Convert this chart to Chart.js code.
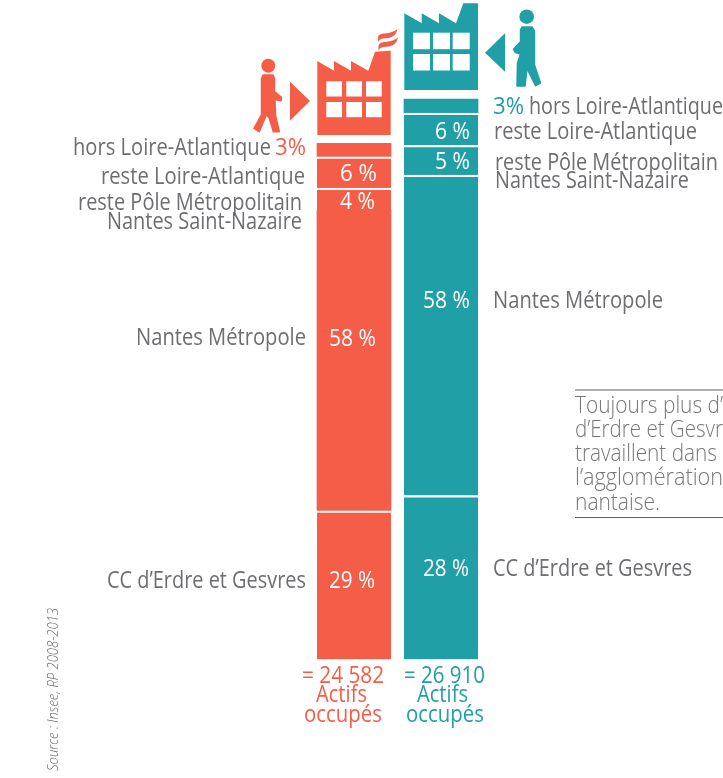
<!DOCTYPE html>
<html lang="fr">
<head>
<meta charset="utf-8">
<title>Actifs occupés</title>
<script src="https://cdn.jsdelivr.net/npm/chart.js@4/dist/chart.umd.min.js"></script>
<style>
  html, body { margin: 0; padding: 0; background: #fff; overflow: hidden; }
  canvas { display: block; }
</style>
</head>
<body>
<canvas id="chart" width="723" height="778"></canvas>
<script>
// Two columns: residents working in the CC, and people working in the CC
const categories = ['Actifs sortants', 'Actifs entrants'];
const zones = ['CC d’Erdre et Gesvres', 'Nantes Métropole', 'reste Pôle Métropolitain Nantes Saint-Nazaire', 'reste Loire-Atlantique', 'hors Loire-Atlantique'];

// Segment sizes, in number of workers (bottom to top)
const erdreValues = [7142, 7872];
const metropoleValues = [14434, 15384];
const poleValues = [1056, 1426];
const loireValues = [1502, 1550];
const horsValues = [643, 672];

const totals = ['= 24 582', '= 26 910'];
const percentLabels = ['3%', '6 %', '4 %', '58 %', '29 %', '3%', '6 %', '5 %', '58 %', '28 %'];

const CORAL = '#f45e48';
const TEAL = '#209fa6';
const GREY = '#6d6e71';
const colors = [CORAL, TEAL];

const FONT = '"Open Sans", sans-serif';
const SIZE = 23.5;

// Draw a text squeezed or stretched to the width it has in the layout
function fitText(ctx, text, x, y, width, color, size = SIZE, weight = '400') {
  ctx.save();
  ctx.font = `${weight} ${size}px ${FONT}`;
  ctx.textAlign = 'left';
  ctx.textBaseline = 'middle';
  ctx.fillStyle = color;
  const measured = ctx.measureText(text).width;
  ctx.translate(x, y);
  ctx.scale(width / measured, 1);
  ctx.fillText(text, 0, 0);
  ctx.restore();
}

function polygon(ctx, points, color, thicken = 0) {
  ctx.fillStyle = color;
  ctx.strokeStyle = color;
  ctx.lineJoin = 'round';
  ctx.lineWidth = thicken;
  ctx.beginPath();
  points.forEach(([x, y], i) => (i ? ctx.lineTo(x, y) : ctx.moveTo(x, y)));
  ctx.closePath();
  ctx.fill();
  if (thicken) ctx.stroke();
}

// Factories, arrows and walking figures above the bars
function drawPictos(ctx) {
  polygon(ctx, [[317.3, 61], [334, 70.7], [334, 61], [351, 70.7], [351, 61], [368.3, 70.7], [375, 51.7], [390.7, 50.7], [390.7, 135], [317.3, 135]], CORAL);
  ctx.fillStyle = '#fff';
  [326.3, 346.3, 366].forEach(x => [81.3, 102].forEach(y => ctx.fillRect(x, y, 15.7, 15.2)));

  // Smoke
  ctx.fillStyle = CORAL;
  [[0, 0], [0.5, 8.5]].forEach(([dx, dy]) => {
    ctx.beginPath();
    ctx.moveTo(378 + dx, 37.5 + dy);
    ctx.bezierCurveTo(379 + dx, 31 + dy, 389 + dx, 36 + dy, 397.5 + dx, 29 + dy);
    ctx.bezierCurveTo(396.5 + dx, 34 + dy, 393 + dx, 37.5 + dy, 388 + dx, 38 + dy);
    ctx.bezierCurveTo(384 + dx, 38.5 + dy, 380 + dx, 38 + dy, 378 + dx, 42 + dy);
    ctx.closePath();
    ctx.fill();
  });

  polygon(ctx, [[404.3, 13.3], [421.7, 23.3], [421.7, 13.3], [439, 23.3], [439, 13.3], [456, 23.3], [463.3, 3.3], [478, 3.3], [478, 90], [404.3, 90]], TEAL);
  ctx.fillStyle = '#fff';
  [413, 433, 452.7].forEach(x => [32.7, 54].forEach(y => ctx.fillRect(x, y, 17, 16.5)));

  polygon(ctx, [[290, 81.7], [310, 101], [290, 120.7]], CORAL);
  polygon(ctx, [[505, 33.3], [485, 52.7], [505, 71.7]], TEAL);

  // Walkers
  ctx.fillStyle = CORAL;
  ctx.beginPath();
  ctx.arc(268.3, 65.7, 7, 0, Math.PI * 2);
  ctx.fill();
  polygon(ctx, [[263, 75], [273, 75], [274.5, 78.3], [274.5, 91.7], [281.5, 97.3], [281, 100.7], [277.3, 100], [275, 99.5], [275.5, 115], [279.3, 131.7], [273.3, 131.7], [269.3, 118.3], [266.5, 114.5], [259.3, 131.7], [254, 128.3], [261.5, 114.5], [261.5, 78.3]], CORAL, 1.5);

  ctx.fillStyle = TEAL;
  ctx.beginPath();
  ctx.arc(526.7, 16.7, 7.3, 0, Math.PI * 2);
  ctx.fill();
  polygon(ctx, [[522, 27], [532, 27], [534.5, 31], [534.5, 65], [540.5, 83], [535.5, 85.7], [527, 68.3], [525, 86], [517, 86], [517.5, 63.3], [520.5, 54], [515.5, 52.5], [513.5, 49.3], [520.5, 41.7], [520.5, 30]], TEAL, 1.5);
}

const annotationsPlugin = {
  id: 'annotations',
  afterDraw: (chart) => {
    const ctx = chart.ctx;
    drawPictos(ctx);

    // Zone names, left column
    fitText(ctx, zones[4], 73, 148.5, 198, GREY);
    fitText(ctx, percentLabels[0], 275, 148.5, 31, CORAL);
    fitText(ctx, zones[3], 101, 177, 204, GREY);
    fitText(ctx, 'reste Pôle Métropolitain', 78, 203, 224, GREY);
    fitText(ctx, 'Nantes Saint-Nazaire', 107, 222.5, 195, GREY);
    fitText(ctx, zones[1], 136, 338, 170, GREY);
    fitText(ctx, zones[0], 107, 581, 199, GREY);

    // Zone names, right column
    fitText(ctx, percentLabels[5], 493, 107.5, 31, TEAL);
    fitText(ctx, zones[4], 529, 107.5, 194, GREY);
    fitText(ctx, zones[3], 494, 132, 203, GREY);
    fitText(ctx, 'reste Pôle Métropolitain', 495, 163, 223, GREY);
    fitText(ctx, 'Nantes Saint-Nazaire', 495, 181.5, 194, GREY);
    fitText(ctx, zones[1], 493, 301, 170, GREY);
    fitText(ctx, zones[0], 493, 569, 199, GREY);

    // Percentages inside the bars
    const white = '#fff';
    fitText(ctx, percentLabels[1], 340, 174.5, 37, white);
    fitText(ctx, percentLabels[2], 340, 202.5, 35, white);
    fitText(ctx, percentLabels[3], 329, 339, 47, white);
    fitText(ctx, percentLabels[4], 329, 581, 46, white);
    fitText(ctx, percentLabels[6], 435, 132, 35, white);
    fitText(ctx, percentLabels[7], 435, 162.5, 35, white);
    fitText(ctx, percentLabels[8], 423, 301, 47, white);
    fitText(ctx, percentLabels[9], 423, 569, 46, white);

    // Totals under the bars
    fitText(ctx, totals[0], 302, 676.5, 82, CORAL);
    fitText(ctx, 'Actifs', 316, 695.5, 51, CORAL);
    fitText(ctx, 'occupés', 304, 715, 78, CORAL);
    fitText(ctx, totals[1], 404, 676.5, 81, TEAL);
    fitText(ctx, 'Actifs', 417, 695.5, 51, TEAL);
    fitText(ctx, 'occupés', 406, 715, 78, TEAL);

    // Side note, cut by the page edge
    ctx.fillStyle = '#5f6062';
    ctx.fillRect(575, 389.5, 148, 1);
    ctx.fillRect(575, 517, 148, 1);
    const noteColor = '#77777a';
    fitText(ctx, 'Toujours plus d’', 575, 406, 148, noteColor, 23, '300');
    fitText(ctx, 'd’Erdre et Gesvr', 575, 430, 148, noteColor, 23, '300');
    fitText(ctx, 'travaillent dans', 575, 454, 142, noteColor, 23, '300');
    fitText(ctx, 'l’agglomération', 575, 478.5, 148, noteColor, 23, '300');
    fitText(ctx, 'nantaise.', 575, 503.5, 85, noteColor, 23, '300');

    // Source, rotated
    ctx.save();
    ctx.translate(53.5, 771);
    ctx.rotate(-Math.PI / 2);
    fitText(ctx, 'Source : Insee, RP 2008-2013', 0, 0, 163, GREY, 15, 'italic 300');
    ctx.restore();
  }
};

const seriesValues = [erdreValues, metropoleValues, poleValues, loireValues, horsValues];

new Chart(document.getElementById('chart'), {
  type: 'bar',
  data: {
    labels: categories,
    datasets: seriesValues.map((values, i) => ({
      label: zones[i],
      data: values,
      backgroundColor: colors,
      borderColor: '#fff',
      borderSkipped: false,
      // White gap on top of each segment. The left bar has none between 4 % and 58 %
      borderWidth: categories.map((_, col) => ({
        top: i === 4 || (i === 1 && col === 0) ? 0 : 2.4,
        right: 0, bottom: 0, left: 0
      })),
      barThickness: 74,
      stack: 'total'
    }))
  },
  options: {
    responsive: false,
    animation: false,
    layout: { padding: { left: 310.5, right: 238.5, top: 3.5, bottom: 118.5 } },
    plugins: { legend: { display: false }, tooltip: { enabled: false } },
    scales: {
      x: { display: false, stacked: true },
      y: { display: false, stacked: true, min: 0, max: 31488 }
    }
  },
  plugins: [annotationsPlugin]
});
</script>
</body>
</html>
